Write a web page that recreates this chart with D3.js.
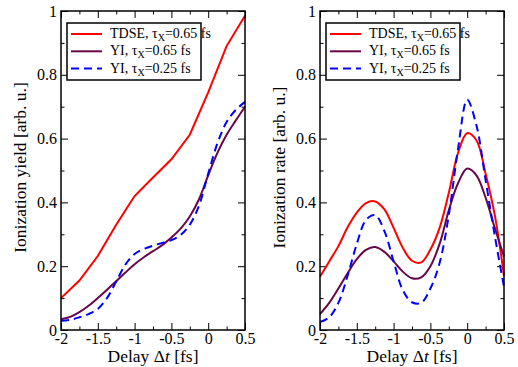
<!DOCTYPE html>
<html>
<head>
<meta charset="utf-8">
<script src="https://cdn.jsdelivr.net/npm/d3@7"></script>
<style>
  body { margin: 0; background: #fff; }
</style>
</head>
<body>
<div id="chart"></div>
<script>
// delay axis for the coarse TDSE yield (step 0.25 fs)
const delayCoarse = [-2, -1.75, -1.5, -1.25, -1, -0.75, -0.5, -0.25, 0, 0.25, 0.5];
// delay axis for the smooth curves (step 0.125 fs)
const delayFine = [-2, -1.875, -1.75, -1.625, -1.5, -1.375, -1.25, -1.125, -1, -0.875, -0.75,
  -0.625, -0.5, -0.375, -0.25, -0.125, 0, 0.125, 0.25, 0.375, 0.5];

// left panel: ionization yield
const yieldTdse065 = [0.10, 0.155, 0.232, 0.33, 0.42, 0.478, 0.535, 0.612, 0.745, 0.89, 0.985];
const yieldYi065 = [0.034, 0.041, 0.056, 0.076, 0.10, 0.126, 0.153, 0.18, 0.206, 0.228, 0.247,
  0.266, 0.29, 0.318, 0.356, 0.41, 0.485, 0.555, 0.612, 0.657, 0.70];
const yieldYi025 = [0.029, 0.032, 0.04, 0.05, 0.066, 0.10, 0.152, 0.205, 0.238, 0.254, 0.264,
  0.273, 0.282, 0.298, 0.33, 0.39, 0.49, 0.585, 0.652, 0.69, 0.715];

// right panel: ionization rate
const rateTdse065 = [0.167, 0.215, 0.263, 0.322, 0.368, 0.398, 0.403, 0.378, 0.32, 0.258, 0.217,
  0.212, 0.252, 0.32, 0.43, 0.555, 0.617, 0.595, 0.49, 0.36, 0.17];
const rateYi065 = [0.05, 0.085, 0.13, 0.178, 0.222, 0.251, 0.26, 0.245, 0.215, 0.183, 0.162,
  0.165, 0.2, 0.27, 0.375, 0.46, 0.506, 0.485, 0.415, 0.32, 0.23];
const rateYi025 = [0.025, 0.04, 0.085, 0.17, 0.27, 0.345, 0.36, 0.31, 0.215, 0.125, 0.087,
  0.085, 0.13, 0.21, 0.36, 0.567, 0.722, 0.642, 0.47, 0.295, 0.135];

const xTicks = [-2, -1.5, -1, -0.5, 0, 0.5];
const xTickLabels = ["-2", "-1.5", "-1", "-0.5", "0", "0.5"];
const yTicks = [0, 0.2, 0.4, 0.6, 0.8, 1];
const yTickLabels = ["0", "0.2", "0.4", "0.6", "0.8", "1"];

const legendLabels = [
  ["TDSE, \u03c4", "X", "=0.65 fs"],
  ["YI, \u03c4", "X", "=0.65 fs"],
  ["YI, \u03c4", "X", "=0.25 fs"]
];
const seriesColors = ["#ff0000", "#670748", "#0000ff"];
const seriesDash = [null, null, "8,5"];

const FONT = "Liberation Serif";
const W = 518, H = 367;
const svg = d3.select("#chart").append("svg")
  .attr("width", W).attr("height", H);

function panel(x0, x1, yLabel, series) {
  const top = 11, bottom = 330;
  const x = d3.scaleLinear().domain([-2, 0.5]).range([x0, x1]);
  const y = d3.scaleLinear().domain([0, 1]).range([bottom, top]);
  const g = svg.append("g");

  // minor ticks on all four sides
  const minorX = d3.range(-1.75, 0.5, 0.5);
  const minorY = d3.range(0.1, 1, 0.2);
  g.append("g").attr("transform", "translate(0," + bottom + ")")
    .call(d3.axisBottom(x).tickValues(minorX).tickSize(-3.5).tickFormat(""));
  g.append("g").attr("transform", "translate(0," + top + ")")
    .call(d3.axisTop(x).tickValues(minorX).tickSize(-3.5).tickFormat(""));
  g.append("g").attr("transform", "translate(" + x0 + ",0)")
    .call(d3.axisLeft(y).tickValues(minorY).tickSize(-3.5).tickFormat(""));
  g.append("g").attr("transform", "translate(" + x1 + ",0)")
    .call(d3.axisRight(y).tickValues(minorY).tickSize(-3.5).tickFormat(""));

  // major ticks
  g.append("g").attr("transform", "translate(0," + bottom + ")")
    .call(d3.axisBottom(x).tickValues(xTicks).tickSize(-7).tickPadding(3)
      .tickFormat((d, i) => xTickLabels[i]));
  g.append("g").attr("transform", "translate(0," + top + ")")
    .call(d3.axisTop(x).tickValues(xTicks).tickSize(-7).tickFormat(""));
  g.append("g").attr("transform", "translate(" + x0 + ",0)")
    .call(d3.axisLeft(y).tickValues(yTicks).tickSize(-7).tickPadding(4)
      .tickFormat((d, i) => yTickLabels[i]));
  g.append("g").attr("transform", "translate(" + x1 + ",0)")
    .call(d3.axisRight(y).tickValues(yTicks).tickSize(-7).tickFormat(""));

  g.selectAll(".domain").remove();
  g.selectAll(".tick line").attr("stroke", "#000").attr("stroke-width", 1);
  g.selectAll(".tick text").attr("font-size", 16);

  // data lines
  series.forEach((s, i) => {
    const line = d3.line()
      .x((d, j) => x(s.xs[j]))
      .y(d => y(d))
      .curve(s.smooth ? d3.curveCatmullRom : d3.curveLinear);
    g.append("path")
      .datum(s.ys)
      .attr("d", line)
      .attr("fill", "none")
      .attr("stroke", seriesColors[i])
      .attr("stroke-width", 2)
      .attr("stroke-dasharray", seriesDash[i]);
  });

  // frame
  g.append("rect")
    .attr("x", x0).attr("y", top)
    .attr("width", x1 - x0).attr("height", bottom - top)
    .attr("fill", "none").attr("stroke", "#000").attr("stroke-width", 1.5);

  // axis titles
  g.append("text")
    .attr("x", (x0 + x1) / 2).attr("y", 362)
    .attr("font-size", 17.5)
    .attr("text-anchor", "middle")
    .call(t => {
      t.append("tspan").text("Delay \u0394");
      t.append("tspan").attr("font-style", "italic").text("t");
      t.append("tspan").text(" [fs]");
    });
  g.append("text")
    .attr("transform", "translate(" + (x0 - 35) + "," + ((top + bottom) / 2 - 3) + ") rotate(-90)")
    .attr("font-size", 17.5)
    .attr("text-anchor", "middle")
    .text(yLabel);

  // legend
  const lx = x0 + 6, ly = 23;
  const lg = g.append("g").attr("transform", "translate(" + lx + "," + ly + ")");
  lg.append("rect")
    .attr("width", 134).attr("height", 57)
    .attr("fill", "#fff").attr("stroke", "#000").attr("stroke-width", 1.5);
  legendLabels.forEach((lab, i) => {
    const ry = 11 + i * 17.3;
    lg.append("line")
      .attr("x1", 4).attr("x2", 35).attr("y1", ry).attr("y2", ry)
      .attr("stroke", seriesColors[i]).attr("stroke-width", 2)
      .attr("stroke-dasharray", seriesDash[i]);
    const t = lg.append("text")
      .attr("font-size", 14)
      .attr("x", 43).attr("y", ry + 4);
    t.append("tspan").text(lab[0]);
    t.append("tspan").attr("dy", 3).attr("font-size", 10).text(lab[1]);
    t.append("tspan").attr("dy", -3).text(lab[2]);
  });
}

panel(61, 245, "Ionization yield [arb. u.]", [
  { xs: delayCoarse, ys: yieldTdse065, smooth: false },
  { xs: delayFine, ys: yieldYi065, smooth: true },
  { xs: delayFine, ys: yieldYi025, smooth: true }
]);
panel(320, 504, "Ionization rate [arb. u.]", [
  { xs: delayFine, ys: rateTdse065, smooth: true },
  { xs: delayFine, ys: rateYi065, smooth: true },
  { xs: delayFine, ys: rateYi025, smooth: true }
]);

// one serif face for every label, axis ticks included
svg.selectAll("g").attr("font-family", FONT);
svg.selectAll("text").attr("font-family", FONT).attr("fill", "#000");
</script>
</body>
</html>
